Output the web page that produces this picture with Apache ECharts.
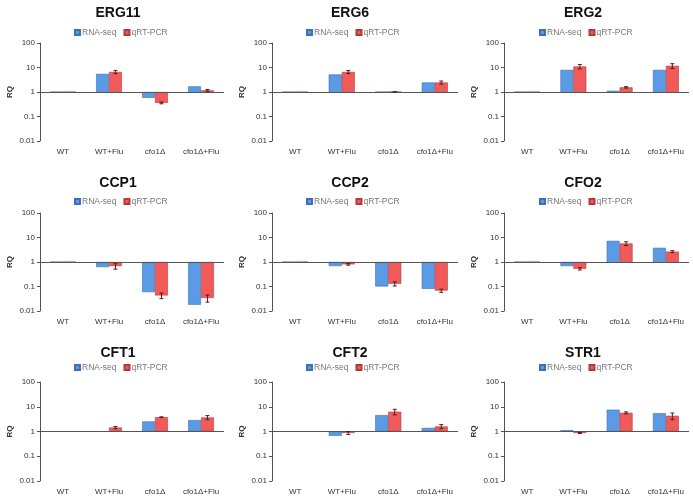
<!DOCTYPE html>
<html>
<head>
<meta charset="utf-8">
<script src="https://cdn.jsdelivr.net/npm/echarts@6/dist/echarts.min.js"></script>
<style>
html,body{margin:0;padding:0;background:#fff;}
#chart{width:693px;height:497px;}
</style>
</head>
<body>
<div id="chart"></div>
<script>
// ---- data ----
const categories = ['WT', 'WT+Flu', 'cfo1Δ', 'cfo1Δ+Flu'];
const genes = ['ERG11', 'ERG6', 'ERG2', 'CCP1', 'CCP2', 'CFO2', 'CFT1', 'CFT2', 'STR1'];
const seriesNames = ['RNA-seq', 'qRT-PCR'];
const yTickLabels = ['0.01', '0.1', '1', '10', '100'];

const erg11Rna = [1, 5.5, 0.58, 1.7];
const erg11Pcr = [1, 6.6, 0.36, 1.17];
const erg11Err = [0, 1.0, 0.03, 0.1];

const erg6Rna = [1, 5.2, 1.0, 2.45];
const erg6Pcr = [1, 6.6, 1.02, 2.45];
const erg6Err = [0, 0.9, 0.02, 0.35];

const erg2Rna = [1, 8.0, 1.12, 8.0];
const erg2Pcr = [1, 11.0, 1.55, 11.7];
const erg2Err = [0, 2.3, 0.1, 2.6];

const ccp1Rna = [1, 0.62, 0.059, 0.018];
const ccp1Pcr = [1, 0.68, 0.043, 0.034];
const ccp1Err = [0, 0.17, 0.011, 0.011];

const ccp2Rna = [1, 0.68, 0.1, 0.08];
const ccp2Pcr = [1, 0.8, 0.13, 0.068];
const ccp2Err = [0, 0.06, 0.025, 0.01];

const cfo2Rna = [1, 0.68, 7.3, 3.8];
const cfo2Pcr = [1, 0.53, 5.7, 2.65];
const cfo2Err = [0, 0.06, 1.0, 0.25];

const cft1Rna = [1, 1.0, 2.55, 2.9];
const cft1Pcr = [1, 1.45, 3.8, 3.7];
const cft1Err = [0, 0.15, 0.1, 0.7];

const cft2Rna = [1, 0.67, 4.6, 1.4];
const cft2Pcr = [1, 0.88, 6.3, 1.6];
const cft2Err = [0, 0.12, 1.6, 0.3];

const str1Rna = [1, 1.13, 7.6, 5.5];
const str1Pcr = [1, 0.87, 5.7, 4.3];
const str1Err = [0, 0.04, 0.5, 1.3];

const rnaByGene = [erg11Rna, erg6Rna, erg2Rna, ccp1Rna, ccp2Rna, cfo2Rna, cft1Rna, cft2Rna, str1Rna];
const pcrByGene = [erg11Pcr, erg6Pcr, erg2Pcr, ccp1Pcr, ccp2Pcr, cfo2Pcr, cft1Pcr, cft2Pcr, str1Pcr];
const errByGene = [erg11Err, erg6Err, erg2Err, ccp1Err, ccp2Err, cfo2Err, cft1Err, cft2Err, str1Err];

// ---- layout ----
const colLeft = [40, 272, 504];
const colWidth = [184, 186, 185];
const colCenter = [113, 345, 578];
const rowTop = [43, 213, 382];
const rowHeight = [98, 98, 99];
const titleTop = [1, 171, 341];
const legendTop = [23, 192, 358];

const BLUE = '#5B9BE6';
const RED = '#F25A5A';
const CAT_GAP = 0.44;

const chart = echarts.init(document.getElementById('chart'), null, {renderer: 'canvas'});

const option = {
  animation: false,
  backgroundColor: '#ffffff',
  textStyle: {fontFamily: 'Liberation Sans, Arial, sans-serif'},
  title: [], legend: [], grid: [], xAxis: [], yAxis: [], series: []
};

genes.forEach((g, i) => {
  const r = Math.floor(i / 3), c = i % 3;
  option.title.push({
    text: g, left: colCenter[c], top: titleTop[r], textAlign: 'center',
    textStyle: {fontSize: 14, fontWeight: 'bold', color: '#111', fontFamily: 'Liberation Sans, Arial, sans-serif'}
  });
  option.legend.push({
    data: seriesNames, left: colCenter[c] - 44, top: legendTop[r],
    itemWidth: 5, itemHeight: 5, itemGap: 7,
    icon: 'rect',
    textStyle: {fontSize: 8.5, color: '#777', padding: [0, 0, 0, -3]},
    selectedMode: false
  });
  option.grid.push({left: colLeft[c], top: rowTop[r], width: colWidth[c], height: rowHeight[r]});
  option.xAxis.push({
    type: 'category', gridIndex: i, data: categories,
    axisLine: {show: false}, axisTick: {show: false},
    axisLabel: {fontSize: 8, color: '#333', margin: 7, interval: 0}
  });
  option.yAxis.push({
    type: 'log', logBase: 10, gridIndex: i, min: 0.01, max: 100,
    name: 'RQ', nameLocation: 'middle', nameGap: 26, nameRotate: 90,
    nameTextStyle: {fontSize: 8, color: '#333', fontWeight: 'bold'},
    axisLine: {show: true, lineStyle: {color: '#555', width: 1}},
    axisTick: {show: true, length: 3, lineStyle: {color: '#555'}},
    splitLine: {show: false},
    minorTick: {show: false},
    axisLabel: {
      fontSize: 8, color: '#333', margin: 5,
      formatter: v => yTickLabels[Math.round(Math.log10(v)) + 2]
    }
  });
  option.series.push({
    type: 'bar', name: seriesNames[0], xAxisIndex: i, yAxisIndex: i,
    data: rnaByGene[i], barGap: '0%', barCategoryGap: (CAT_GAP * 100) + '%',
    itemStyle: {color: BLUE, borderColor: '#3d70b3', borderWidth: 0.6},
    markLine: {
      silent: true, symbol: 'none', label: {show: false},
      lineStyle: {color: '#555', width: 1, type: 'solid'},
      data: [{yAxis: 1}]
    }
  });
  option.series.push({
    type: 'bar', name: seriesNames[1], xAxisIndex: i, yAxisIndex: i,
    data: pcrByGene[i], barGap: '0%', barCategoryGap: (CAT_GAP * 100) + '%',
    itemStyle: {color: RED, borderColor: '#b33a3a', borderWidth: 0.6}
  });
  const errData = pcrByGene[i].map((v, k) => [k, v, errByGene[i][k]]).filter(d => d[2] > 0);
  option.series.push({
    type: 'custom', xAxisIndex: i, yAxisIndex: i, silent: true, z: 5,
    encode: {x: 0, y: 1},
    data: errData,
    renderItem: (params, api) => {
      const k = api.value(0), v = api.value(1), e = api.value(2);
      const band = api.size([1, 1])[0];
      const bw = band * (1 - CAT_GAP) / 2;
      const center = api.coord([k, v]);
      const x = center[0] + bw / 2;
      const top = api.coord([k, v + e])[1];
      const bot = api.coord([k, Math.max(v - e, 0.0101)])[1];
      const cap = 2;
      const st = {stroke: '#5a1a1a', lineWidth: 1};
      return {type: 'group', children: [
        {type: 'line', shape: {x1: x, y1: top, x2: x, y2: bot}, style: st},
        {type: 'line', shape: {x1: x - cap, y1: top, x2: x + cap, y2: top}, style: st},
        {type: 'line', shape: {x1: x - cap, y1: bot, x2: x + cap, y2: bot}, style: st}
      ]};
    }
  });
});

chart.setOption(option);
</script>
</body>
</html>
